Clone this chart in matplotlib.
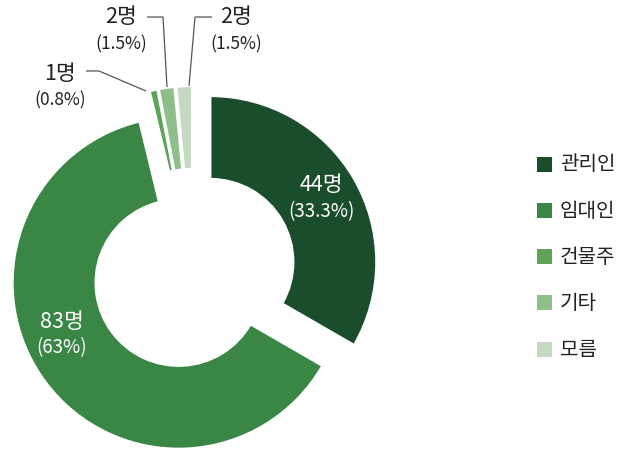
import matplotlib
matplotlib.use("Agg")
import matplotlib.pyplot as plt
from matplotlib.patches import Rectangle

plt.rcParams["font.family"] = ["Noto Sans CJK KR", "DejaVu Sans"]

categories = ["관리인", "임대인", "건물주", "기타", "모름"]
counts = [44, 83, 1, 2, 2]
pct_labels = ["33.3%", "63%", "0.8%", "1.5%", "1.5%"]
colors = ["#1a4d2b", "#3a8745", "#5ea357", "#8fbf88", "#c5d8c2"]

W, H = 627, 452


def py(y):
    # pixel row (from top) -> data y
    return H - y


fig = plt.figure(figsize=(W / 100, H / 100), dpi=100)
ax = fig.add_axes([0, 0, 1, 1])

R = 166
ax.pie(counts, colors=colors, startangle=90, counterclock=False,
       radius=R, center=(193, py(273)), explode=[20, 18, 20, 20, 20],
       wedgeprops=dict(width=R * 0.5, edgecolor="white", linewidth=1.6))
ax.set_xlim(0, W)
ax.set_ylim(0, H)
ax.set_aspect("equal")
ax.axis("off")

# labels inside the two large slices
inner_pos = {0: (321, 185, 212), 1: (62, 322, 348)}
for i, (x, y1, y2) in inner_pos.items():
    ax.text(x, py(y1), f"{counts[i]}명", color="white", fontsize=15.5,
            ha="center", va="center", fontweight="light")
    ax.text(x, py(y2), f"({pct_labels[i]})", color="white", fontsize=13.5,
            ha="center", va="center", fontweight="light")

# labels for the small slices with leader lines
outer = {
    2: ((60, 74, 100), [(86, 72), (99, 72), (146, 92)]),
    3: ((121, 17, 44), [(147, 18), (163, 18), (167, 88)]),
    4: ((236, 17, 44), [(212, 18), (195, 18), (189, 87)]),
}
for i, ((x, y1, y2), pts) in outer.items():
    ax.text(x, py(y1), f"{counts[i]}명", color="#222222", fontsize=15.5,
            ha="center", va="center", fontweight="light")
    ax.text(x, py(y2), f"({pct_labels[i]})", color="#222222", fontsize=12.5,
            ha="center", va="center", fontweight="light")
    ax.plot([p[0] for p in pts], [py(p[1]) for p in pts],
            color="#555555", lw=0.9, solid_capstyle="butt")

# legend
for k, (lab, col) in enumerate(zip(categories, colors)):
    yc = 165 + k * 46.3
    ax.add_patch(Rectangle((537, py(yc + 7.5)), 15, 15, color=col, lw=0))
    ax.text(560, py(yc), lab, fontsize=14.5, color="#222222",
            ha="left", va="center")

fig.savefig("out.png", dpi=100)
